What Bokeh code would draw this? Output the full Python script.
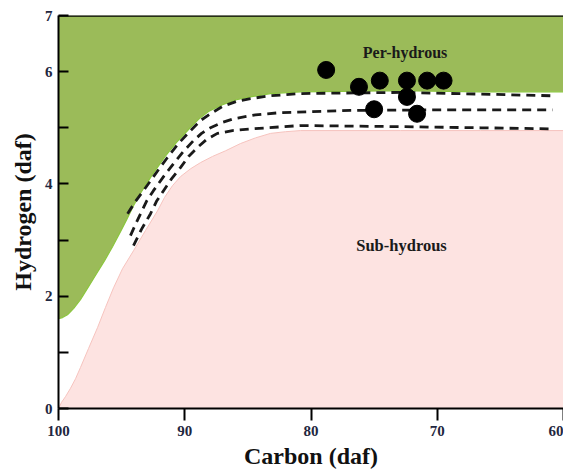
from bokeh.plotting import figure
from bokeh.models import Range1d, FixedTicker, Span
from bokeh.core.properties import value
from bokeh.embed import file_html
from bokeh.resources import INLINE

# --- data ---
# upper (green, per-hydrous) boundary
green_x = [100.00, 99.68, 99.29, 98.81, 98.26, 97.62, 96.99, 96.36, 95.72, 95.09, 94.61, 94.06, 93.43,
           92.55, 91.52, 90.65, 89.70, 88.91, 88.12, 87.01, 85.90, 84.79, 83.21, 80.83, 72.91, 66.57, 60.00]
green_y = [1.60, 1.62, 1.67, 1.78, 1.94, 2.17, 2.40, 2.63, 2.88, 3.15, 3.36, 3.61, 3.86,
           4.17, 4.50, 4.74, 4.97, 5.15, 5.29, 5.41, 5.50, 5.55, 5.61, 5.64, 5.66, 5.64, 5.64]
# lower (pink, sub-hydrous) boundary
pink_x = [100.00, 99.76, 99.45, 99.05, 98.65, 98.26, 97.62, 96.91, 96.28, 95.64, 94.93, 94.06, 93.11,
          92.16, 91.60, 90.97, 90.34, 89.54, 88.75, 87.80, 86.77, 85.58, 84.40, 83.21, 82.02, 80.83,
          72.91, 66.57, 60.00]
pink_y = [0.00, 0.11, 0.21, 0.36, 0.53, 0.73, 1.07, 1.44, 1.80, 2.15, 2.49, 2.81, 3.17,
          3.52, 3.76, 3.97, 4.13, 4.27, 4.38, 4.49, 4.59, 4.72, 4.82, 4.90, 4.93, 4.95,
          4.95, 4.95, 4.95]
# dashed band lines
d1_x = [94.53, 93.90, 93.27, 92.32, 91.37, 90.50, 89.54, 88.75, 87.96, 87.01, 85.90, 84.79, 83.21,
        80.83, 72.91, 66.57, 60.87]
d1_y = [3.47, 3.69, 3.88, 4.18, 4.47, 4.72, 4.95, 5.13, 5.25, 5.38, 5.47, 5.52, 5.57,
        5.61, 5.63, 5.60, 5.57]
d2_x = [94.30, 93.90, 93.50, 93.03, 92.48, 91.68, 90.89, 90.10, 89.31, 88.67, 87.96, 87.09, 86.14,
        84.40, 82.42, 76.87, 68.95, 60.87]
d2_y = [3.08, 3.28, 3.47, 3.69, 3.88, 4.13, 4.36, 4.58, 4.77, 4.90, 5.00, 5.09, 5.16,
        5.23, 5.27, 5.31, 5.32, 5.32]
d3_x = [94.06, 93.43, 92.71, 92.24, 91.68, 91.05, 90.34, 89.70, 88.99, 88.28, 87.41, 86.22, 84.79,
        80.83, 72.91, 66.57, 60.87]
d3_y = [2.90, 3.19, 3.47, 3.69, 3.88, 4.09, 4.29, 4.49, 4.65, 4.79, 4.90, 4.95, 4.98,
        5.04, 5.02, 5.00, 4.98]
# samples
carbon = [78.8, 76.2, 74.55, 72.4, 70.8, 69.5, 72.4, 75.0, 71.6]
hydrogen = [6.03, 5.73, 5.84, 5.84, 5.84, 5.84, 5.55, 5.33, 5.25]
# ticks
x_ticks = [100, 90, 80, 70, 60]
y_ticks = [0, 1, 2, 3, 4, 5, 6, 7]
y_tick_labels = {0: "0", 1: "", 2: "2", 3: "", 4: "4", 5: "", 6: "6", 7: "7"}

SERIF = "Liberation Serif"
GREEN = "#9BBB59"
PINK = "#FDE3E1"
TICK_COLOR = "#1f2740"

p = figure(width=563, height=474, output_backend="svg", toolbar_location=None,
           x_range=Range1d(100, 60), y_range=Range1d(0, 7),
           min_border_left=58, min_border_right=0, min_border_top=15, min_border_bottom=66)
p.background_fill_color = "white"
p.outline_line_color = None
p.grid.visible = False

# regions
p.varea(x=green_x, y1=green_y, y2=[7] * len(green_x), fill_color=GREEN)
p.line(green_x, green_y, line_color="#8CC63F", line_width=1.2, line_join="round")
p.varea(x=pink_x, y1=[0] * len(pink_x), y2=pink_y, fill_color=PINK)
p.line(pink_x, pink_y, line_color="#F6C3BE", line_width=1, line_join="round")

for dx, dy in ((d1_x, d1_y), (d2_x, d2_y), (d3_x, d3_y)):
    p.line(dx, dy, line_color="#1a1a1a", line_width=2.8, line_dash="9 6", line_join="round")

p.scatter(carbon, hydrogen, size=17, fill_color="black", line_color="black")

p.text(x=[72.55], y=[6.34], text=["Per-hydrous"], text_font=value(SERIF),
       text_font_style="bold", text_font_size="16px", text_align="center",
       text_baseline="middle", text_color="#1a1a1a")
p.text(x=[72.83], y=[2.90], text=["Sub-hydrous"], text_font=value(SERIF),
       text_font_style="bold", text_font_size="16.5px", text_align="center",
       text_baseline="middle", text_color="#1a1a1a")

p.add_layout(Span(location=7, dimension="width", line_color="black", line_width=2.5))

# axes
xa = p.xaxis[0]
xa.ticker = FixedTicker(ticks=x_ticks)
xa.minor_tick_line_color = None
xa.major_tick_in = 0
xa.major_tick_out = 12
xa.major_tick_line_width = 2
xa.axis_line_width = 2
xa.major_label_text_font = SERIF
xa.major_label_text_font_style = "bold"
xa.major_label_text_font_size = "15px"
xa.major_label_text_color = TICK_COLOR
xa.major_label_standoff = 5
xa.axis_label = "Carbon (daf)"
xa.axis_label_text_font = SERIF
xa.axis_label_text_font_style = "bold"
xa.axis_label_text_font_size = "24px"
xa.axis_label_text_color = "#111111"
xa.axis_label_standoff = 4

ya = p.yaxis[0]
ya.ticker = FixedTicker(ticks=y_ticks)
ya.major_label_overrides = y_tick_labels
ya.minor_tick_line_color = None
ya.major_tick_in = 10
ya.major_tick_out = 0
ya.major_tick_line_width = 2
ya.axis_line_width = 2
ya.major_label_text_font = SERIF
ya.major_label_text_font_style = "bold"
ya.major_label_text_font_size = "15px"
ya.major_label_text_color = TICK_COLOR
ya.major_label_standoff = 6
ya.axis_label = "Hydrogen (daf)"
ya.axis_label_text_font = SERIF
ya.axis_label_text_font_style = "bold"
ya.axis_label_text_font_size = "24px"
ya.axis_label_text_color = "#111111"
ya.axis_label_standoff = 6

open("out.html", "w").write(file_html(p, INLINE))
